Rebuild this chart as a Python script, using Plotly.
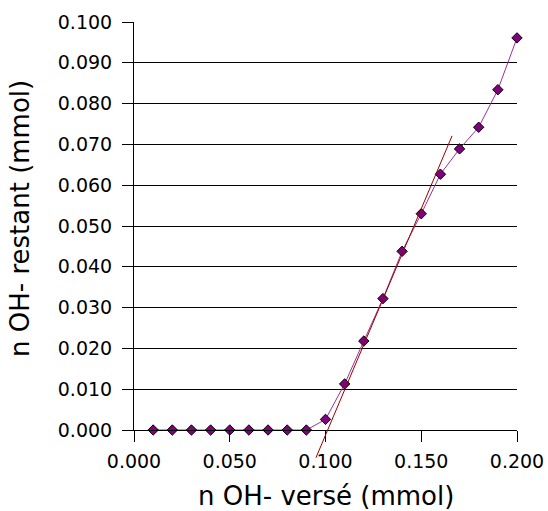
import plotly.graph_objects as go

# Data
n_oh_verse = [0.01, 0.02, 0.03, 0.04, 0.05, 0.06, 0.07, 0.08, 0.09, 0.10,
              0.11, 0.12, 0.13, 0.14, 0.15, 0.16, 0.17, 0.18, 0.19, 0.20]
n_oh_restant = [0.0, 0.0, 0.0, 0.0, 0.0, 0.0, 0.0, 0.0, 0.0, 0.0026,
                0.0113, 0.0218, 0.0322, 0.0438, 0.0530, 0.0627, 0.0689, 0.0742, 0.0834, 0.0961]

# Tangent (hand-drawn linear part) endpoints
tangent_x = [0.0950, 0.1661]
tangent_y = [-0.0068, 0.0721]

X_RANGE = [0.0, 0.2]
Y_RANGE = [0.0, 0.1]

x_title = "n OH- versé (mmol)"
y_title = "n OH- restant (mmol)"

FONT = "DejaVu Sans"

fig = go.Figure()
fig.add_trace(go.Scatter(
    x=n_oh_verse, y=n_oh_restant, mode="lines+markers",
    line=dict(color="#993399", width=1),
    marker=dict(symbol="diamond", size=8, color="#800080",
                line=dict(color="#000000", width=1)),
    cliponaxis=False, showlegend=False, hoverinfo="skip",
))

# tangent line: drawn as shape so it can extend below the x axis
def to_paper(v):
    return (v - Y_RANGE[0]) / (Y_RANGE[1] - Y_RANGE[0])

fig.add_shape(type="line", xref="x", yref="paper",
              x0=tangent_x[0], y0=to_paper(tangent_y[0]),
              x1=tangent_x[1], y1=to_paper(tangent_y[1]),
              line=dict(color="#990000", width=1), layer="above")

# axis titles as annotations for exact placement
fig.add_annotation(text=x_title, xref="paper", yref="paper", x=0.5, y=-0.1618,
                   xanchor="center", yanchor="middle", showarrow=False,
                   borderpad=0, borderwidth=0,
                   font=dict(size=26, family=FONT, color="black"))
fig.add_annotation(text=y_title, xref="paper", yref="paper", x=-0.2977, y=0.5196,
                   xanchor="center", yanchor="middle", showarrow=False, textangle=-90,
                   borderpad=0, borderwidth=0,
                   font=dict(size=26, family=FONT, color="black"))

fig.update_layout(
    width=548, height=511,
    margin=dict(l=134, r=31, t=22, b=81),
    plot_bgcolor="white", paper_bgcolor="white",
    font=dict(family=FONT, color="black", size=19),
    xaxis=dict(
        range=X_RANGE, dtick=0.05, tick0=0, tickformat=".3f",
        showgrid=False, zeroline=False, automargin=False,
        showline=True, linecolor="black", linewidth=1,
        ticks="outside", ticklen=11, tickcolor="black", tickwidth=1,
        tickfont=dict(size=19), ticklabelstandoff=3,
    ),
    yaxis=dict(
        range=Y_RANGE, dtick=0.01, tick0=0, tickformat=".3f",
        showgrid=True, gridcolor="black", gridwidth=1,
        zeroline=False, automargin=False,
        showline=True, linecolor="black", linewidth=1,
        ticks="outside", ticklen=11, tickcolor="black", tickwidth=1,
        tickfont=dict(size=19), ticklabelstandoff=6,
    ),
)

fig.write_html(
    "out.html",
    config={"displayModeBar": False},
    post_script="document.body.style.margin='0';document.body.style.overflow='hidden';",
)
